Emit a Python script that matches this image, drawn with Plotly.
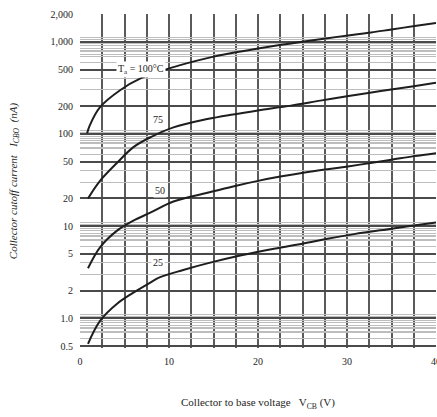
import numpy as np
import plotly.graph_objects as go

# Collector cutoff current I_CBO (nA) versus collector-to-base voltage V_CB (V)
v_100 = [0.8, 1.1, 2.25, 4.5, 6.8, 10.5, 14.3, 17.2, 20, 23.7, 27.4, 30.1, 32.7, 35, 37.6, 40]
i_100 = [102, 124, 195, 298, 400, 531, 665, 760, 845, 960, 1080, 1170, 1260, 1360, 1480, 1600]

v_75 = [0.9, 2.25, 4.2, 6.0, 7.9, 10.5, 14.3, 17.2, 20, 23.7, 27.0, 30.0, 33.8, 37.5, 40]
i_75 = [20, 31, 49, 72, 92, 118, 145, 163, 180, 203, 230, 257, 292, 330, 360]

v_50 = [0.9, 2.25, 4.2, 6.0, 7.9, 10.5, 14.3, 17.2, 20, 22.5, 25.1, 27.8, 30.1, 33, 35, 37.5, 40]
i_50 = [3.5, 5.9, 9.0, 11.5, 14, 18.5, 23, 27, 31, 34.5, 38, 41.5, 44.5, 49, 52.5, 57.5, 62]

v_25 = [0.9, 2.25, 4.2, 6.0, 7.9, 9.0, 11.6, 14.3, 18, 21.8, 25.1, 27.8, 30.8, 35, 37.5, 40]
i_25 = [0.53, 0.94, 1.45, 1.9, 2.45, 2.8, 3.35, 3.95, 4.8, 5.7, 6.5, 7.3, 8.2, 9.4, 10.2, 11.0]

curve_labels = ["T<sub>a</sub> = 100°C", "75", "50", "25"]
label_pos_v = [6.9, 8.8, 9.0, 8.8]
label_pos_i = [500, 145, 24.4, 4.0]

x_ticks = [0, 10, 20, 30, 40]
y_ticks = [0.5, 1, 2, 5, 10, 20, 50, 100, 200, 500, 1000, 2000]
y_tick_text = ["0.5", "1.0", "2", "5", "10", "20", "50", "100", "200", "500", "1,000", "2,000"]

# log-paper rulings: integer multiples in each decade plus fine rulings near each decade line
decades = [0.1, 1, 10, 100, 1000]
mid_rules = [d * m for d in decades for m in (3, 4, 6, 7, 8, 9)]
fine_rules = [d * m for d in decades for m in (0.72, 0.78, 0.84, 0.9, 0.95, 1.05, 1.1)]
y_minor = sorted(v for v in mid_rules + fine_rules if 0.5 <= v <= 2000)
x_grid = list(np.arange(0, 40.01, 2.5))

serif = "Liberation Serif, Times New Roman, serif"
ink = "#1e1e1e"

fig = go.Figure()
for vs, cs in [(v_100, i_100), (v_75, i_75), (v_50, i_50), (v_25, i_25)]:
    fig.add_trace(go.Scatter(x=vs, y=cs, mode="lines",
                             line=dict(color=ink, width=2, shape="spline", smoothing=1.0),
                             showlegend=False, hoverinfo="skip"))

for txt, xv, yv in zip(curve_labels, label_pos_v, label_pos_i):
    fig.add_annotation(x=xv, y=np.log10(yv), text=txt, showarrow=False,
                       font=dict(family=serif, size=10, color=ink),
                       bgcolor="white", borderpad=1)

fig.update_layout(
    width=437, height=417,
    margin=dict(l=80, r=1, t=14, b=69),
    paper_bgcolor="white", plot_bgcolor="white",
    font=dict(family=serif, size=10, color=ink),
    xaxis=dict(range=[0, 40], tickvals=x_ticks, ticktext=[str(t) for t in x_ticks],
               showgrid=False, zeroline=False, showline=False, ticks="",
               ticklabelstandoff=6, ticklabeloverflow="allow", automargin=False,
               minor=dict(tickvals=x_grid, showgrid=True, gridcolor="#5a5a5a", gridwidth=1.5),
               title=dict(text="Collector to base voltage   V<sub>CB</sub> (V)",
                          font=dict(family=serif, size=11, color=ink), standoff=32)),
    yaxis=dict(type="log", range=[np.log10(0.5) - 0.02, np.log10(2000)],
               tickvals=y_ticks, ticktext=y_tick_text,
               showgrid=True, gridcolor="#4a4a4a", gridwidth=1.5,
               zeroline=False, showline=False, ticks="", ticklabelstandoff=6,
               minor=dict(tickvals=y_minor, showgrid=True, gridcolor="#bdbdbd", gridwidth=1),
               title=dict(text="<i>Collector cutoff current   I<sub>CBO</sub>  (nA)</i>",
                          font=dict(family=serif, size=11, color=ink), standoff=30)),
)

fig.write_html("out.html")
